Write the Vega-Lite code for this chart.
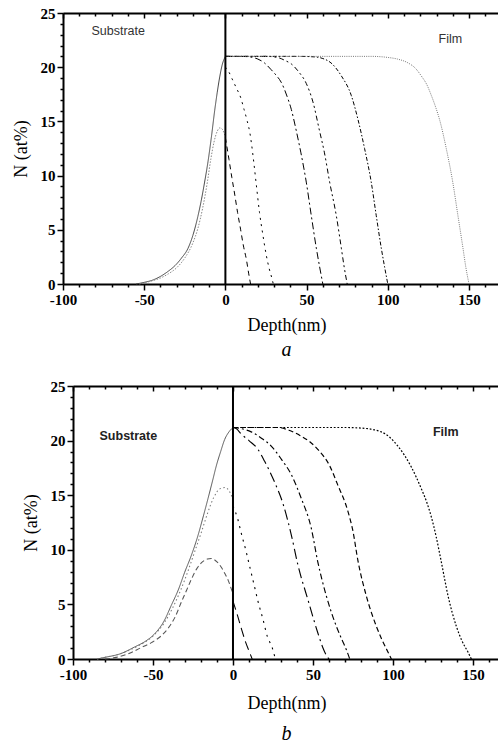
{
  "$schema": "https://vega.github.io/schema/vega-lite/v6.json",
  "padding": {"left": 12, "top": 6, "right": -12, "bottom": 0},
  "center": true,
  "spacing": 19,
  "resolve": {"scale": {"color": "independent", "strokeDash": "independent", "strokeWidth": "independent"}},
  "config": {
    "view": {"stroke": null},
    "axis": {
      "grid": false, "domainColor": "black", "domainWidth": 2, "tickColor": "black", "tickWidth": 1.5, "labelOverlap": false,
      "labelFont": "Liberation Serif", "labelFontWeight": "bold", "labelFontSize": 15, "labelColor": "black",
      "titleFont": "Liberation Serif", "titleFontWeight": "normal", "titleFontSize": 18, "titleColor": "black"
    }
  },
  "datasets": {
    "curvesA": [
      {"curve":"S1","depth":-55,"n":0},{"curve":"S1","depth":-50,"n":0.15},{"curve":"S1","depth":-45,"n":0.35},{"curve":"S1","depth":-40,"n":0.7},{"curve":"S1","depth":-35,"n":1.2},{"curve":"S1","depth":-31,"n":1.7},{"curve":"S1","depth":-27,"n":2.4},{"curve":"S1","depth":-23,"n":3.3},{"curve":"S1","depth":-20,"n":4.5},{"curve":"S1","depth":-17,"n":6.2},{"curve":"S1","depth":-15,"n":7.6},{"curve":"S1","depth":-12.8,"n":9.4},{"curve":"S1","depth":-10.7,"n":11.3},{"curve":"S1","depth":-8.5,"n":13.7},{"curve":"S1","depth":-6.6,"n":16},{"curve":"S1","depth":-5,"n":17.7},{"curve":"S1","depth":-3.5,"n":19.1},{"curve":"S1","depth":-2,"n":20.2},{"curve":"S1","depth":0,"n":21},
      {"curve":"S2","depth":-53,"n":0},{"curve":"S2","depth":-45,"n":0.3},{"curve":"S2","depth":-40,"n":0.55},{"curve":"S2","depth":-35,"n":0.95},{"curve":"S2","depth":-30,"n":1.5},{"curve":"S2","depth":-25,"n":2.4},{"curve":"S2","depth":-20,"n":3.8},{"curve":"S2","depth":-17,"n":5.1},{"curve":"S2","depth":-14,"n":7},{"curve":"S2","depth":-11,"n":9.5},{"curve":"S2","depth":-9,"n":11.5},{"curve":"S2","depth":-7,"n":13.1},{"curve":"S2","depth":-5,"n":14.1},{"curve":"S2","depth":-3.5,"n":14.4},{"curve":"S2","depth":-2,"n":14.3},{"curve":"S2","depth":-1,"n":14.0},{"curve":"S2","depth":0,"n":13.6},
      {"curve":"A1","depth":0,"n":13.5},{"curve":"A1","depth":2.2,"n":11.5},{"curve":"A1","depth":4,"n":9.8},{"curve":"A1","depth":5.7,"n":8.3},{"curve":"A1","depth":7.5,"n":6.6},{"curve":"A1","depth":9.4,"n":5.0},{"curve":"A1","depth":11,"n":3.6},{"curve":"A1","depth":13,"n":2.2},{"curve":"A1","depth":14.3,"n":1.0},{"curve":"A1","depth":15.5,"n":0},
      {"curve":"A2","depth":0,"n":20},{"curve":"A2","depth":2,"n":19.6},{"curve":"A2","depth":4.2,"n":18.9},{"curve":"A2","depth":6.7,"n":18.1},{"curve":"A2","depth":9.4,"n":17.2},{"curve":"A2","depth":11.5,"n":16.1},{"curve":"A2","depth":13.5,"n":15},{"curve":"A2","depth":15,"n":14},{"curve":"A2","depth":16.2,"n":12.8},{"curve":"A2","depth":17.5,"n":11.2},{"curve":"A2","depth":19,"n":9.2},{"curve":"A2","depth":21,"n":6.6},{"curve":"A2","depth":23,"n":4.6},{"curve":"A2","depth":25,"n":2.8},{"curve":"A2","depth":27,"n":1.4},{"curve":"A2","depth":28.5,"n":0.6},{"curve":"A2","depth":29.5,"n":0},
      {"curve":"A3","depth":0,"n":21},{"curve":"A3","depth":10,"n":21},{"curve":"A3","depth":15,"n":20.95},{"curve":"A3","depth":20,"n":20.75},{"curve":"A3","depth":24,"n":20.4},{"curve":"A3","depth":28,"n":19.8},{"curve":"A3","depth":31,"n":19.3},{"curve":"A3","depth":34.4,"n":18.6},{"curve":"A3","depth":38,"n":17.3},{"curve":"A3","depth":40.6,"n":16.1},{"curve":"A3","depth":43.7,"n":14.1},{"curve":"A3","depth":46.5,"n":12.1},{"curve":"A3","depth":49.8,"n":9.4},{"curve":"A3","depth":52.9,"n":6.3},{"curve":"A3","depth":56,"n":3.3},{"curve":"A3","depth":58,"n":1.6},{"curve":"A3","depth":60,"n":0},
      {"curve":"A4","depth":0,"n":21},{"curve":"A4","depth":25,"n":21},{"curve":"A4","depth":32,"n":20.9},{"curve":"A4","depth":37,"n":20.6},{"curve":"A4","depth":40.6,"n":20.3},{"curve":"A4","depth":45,"n":19.6},{"curve":"A4","depth":49.8,"n":18.5},{"curve":"A4","depth":53.9,"n":16.8},{"curve":"A4","depth":58,"n":14.1},{"curve":"A4","depth":61,"n":12.1},{"curve":"A4","depth":64.2,"n":9.4},{"curve":"A4","depth":68.3,"n":6.3},{"curve":"A4","depth":71.4,"n":3.3},{"curve":"A4","depth":73,"n":1.7},{"curve":"A4","depth":75,"n":0},
      {"curve":"A5","depth":0,"n":21},{"curve":"A5","depth":45,"n":21},{"curve":"A5","depth":55,"n":20.95},{"curve":"A5","depth":60,"n":20.8},{"curve":"A5","depth":65,"n":20.4},{"curve":"A5","depth":71.4,"n":19.2},{"curve":"A5","depth":77.5,"n":17.4},{"curve":"A5","depth":81.6,"n":15.2},{"curve":"A5","depth":85.7,"n":12.5},{"curve":"A5","depth":89.8,"n":9.4},{"curve":"A5","depth":92.9,"n":6.3},{"curve":"A5","depth":96,"n":3.3},{"curve":"A5","depth":98,"n":1.6},{"curve":"A5","depth":100,"n":0},
      {"curve":"A6","depth":0,"n":21},{"curve":"A6","depth":90,"n":21},{"curve":"A6","depth":100,"n":20.9},{"curve":"A6","depth":106,"n":20.75},{"curve":"A6","depth":112.4,"n":20.4},{"curve":"A6","depth":117,"n":19.9},{"curve":"A6","depth":120.6,"n":19.2},{"curve":"A6","depth":124,"n":18.4},{"curve":"A6","depth":126.8,"n":17.4},{"curve":"A6","depth":129.5,"n":16.3},{"curve":"A6","depth":132,"n":15.1},{"curve":"A6","depth":136,"n":12.5},{"curve":"A6","depth":140,"n":9.4},{"curve":"A6","depth":143.2,"n":6.3},{"curve":"A6","depth":146.3,"n":3.3},{"curve":"A6","depth":148,"n":1.6},{"curve":"A6","depth":150,"n":0}
    ],
    "curvesB": [
      {"curve":"SB1","depth":-85,"n":0},{"curve":"SB1","depth":-80,"n":0.15},{"curve":"SB1","depth":-70,"n":0.5},{"curve":"SB1","depth":-61.5,"n":1.1},{"curve":"SB1","depth":-55,"n":1.6},{"curve":"SB1","depth":-49,"n":2.3},{"curve":"SB1","depth":-43,"n":3.5},{"curve":"SB1","depth":-38.6,"n":4.9},{"curve":"SB1","depth":-34,"n":6.4},{"curve":"SB1","depth":-30.3,"n":7.9},{"curve":"SB1","depth":-26,"n":9.5},{"curve":"SB1","depth":-21.9,"n":11.3},{"curve":"SB1","depth":-18.5,"n":13.1},{"curve":"SB1","depth":-15.6,"n":14.7},{"curve":"SB1","depth":-12.8,"n":16.3},{"curve":"SB1","depth":-10.4,"n":17.7},{"curve":"SB1","depth":-7.7,"n":19},{"curve":"SB1","depth":-5.2,"n":20.1},{"curve":"SB1","depth":-2.5,"n":20.8},{"curve":"SB1","depth":0,"n":21.2},
      {"curve":"SB2","depth":-85,"n":0},{"curve":"SB2","depth":-80,"n":0.15},{"curve":"SB2","depth":-70,"n":0.5},{"curve":"SB2","depth":-60,"n":1.15},{"curve":"SB2","depth":-50,"n":2.1},{"curve":"SB2","depth":-43,"n":3.3},{"curve":"SB2","depth":-38,"n":4.6},{"curve":"SB2","depth":-33,"n":6.2},{"curve":"SB2","depth":-28,"n":8.1},{"curve":"SB2","depth":-24,"n":9.8},{"curve":"SB2","depth":-20,"n":11.5},{"curve":"SB2","depth":-16,"n":13.3},{"curve":"SB2","depth":-12,"n":14.8},{"curve":"SB2","depth":-8,"n":15.6},{"curve":"SB2","depth":-5,"n":15.7},{"curve":"SB2","depth":-2,"n":15.3},{"curve":"SB2","depth":0,"n":14.6},
      {"curve":"SB3","depth":-80,"n":0},{"curve":"SB3","depth":-73,"n":0.15},{"curve":"SB3","depth":-65,"n":0.5},{"curve":"SB3","depth":-58,"n":1.0},{"curve":"SB3","depth":-51,"n":1.5},{"curve":"SB3","depth":-45,"n":2.1},{"curve":"SB3","depth":-40.6,"n":2.8},{"curve":"SB3","depth":-36,"n":3.9},{"curve":"SB3","depth":-32.3,"n":5.2},{"curve":"SB3","depth":-29,"n":6.3},{"curve":"SB3","depth":-26,"n":7.3},{"curve":"SB3","depth":-22.5,"n":8.3},{"curve":"SB3","depth":-19.8,"n":8.8},{"curve":"SB3","depth":-16,"n":9.15},{"curve":"SB3","depth":-13.6,"n":9.2},{"curve":"SB3","depth":-10,"n":8.9},{"curve":"SB3","depth":-7.3,"n":8.4},{"curve":"SB3","depth":-5,"n":7.8},{"curve":"SB3","depth":-3,"n":7.2},{"curve":"SB3","depth":-1,"n":6.4},{"curve":"SB3","depth":0,"n":6},
      {"curve":"B1","depth":0,"n":5.3},{"curve":"B1","depth":3,"n":3.9},{"curve":"B1","depth":5.2,"n":2.8},{"curve":"B1","depth":8,"n":1.5},{"curve":"B1","depth":10.4,"n":0.6},{"curve":"B1","depth":12,"n":0},
      {"curve":"B2","depth":0,"n":14},{"curve":"B2","depth":3,"n":12.8},{"curve":"B2","depth":5.2,"n":11.5},{"curve":"B2","depth":8.3,"n":9.8},{"curve":"B2","depth":10.4,"n":8.5},{"curve":"B2","depth":13.5,"n":6.6},{"curve":"B2","depth":15.6,"n":5.3},{"curve":"B2","depth":18.8,"n":3.6},{"curve":"B2","depth":21.4,"n":2.1},{"curve":"B2","depth":24.6,"n":1.0},{"curve":"B2","depth":26.5,"n":0},
      {"curve":"B3","depth":0,"n":21.2},{"curve":"B3","depth":2,"n":21.1},{"curve":"B3","depth":5.2,"n":20.6},{"curve":"B3","depth":10,"n":20},{"curve":"B3","depth":15.6,"n":19.2},{"curve":"B3","depth":19.8,"n":18.1},{"curve":"B3","depth":26,"n":16.2},{"curve":"B3","depth":31.3,"n":14.2},{"curve":"B3","depth":36.4,"n":11.4},{"curve":"B3","depth":40.6,"n":8.6},{"curve":"B3","depth":46.9,"n":5.4},{"curve":"B3","depth":53,"n":2.4},{"curve":"B3","depth":56,"n":1.1},{"curve":"B3","depth":58.5,"n":0.3},{"curve":"B3","depth":60,"n":0},
      {"curve":"B4","depth":0,"n":21.2},{"curve":"B4","depth":5,"n":21.1},{"curve":"B4","depth":11.4,"n":20.8},{"curve":"B4","depth":18,"n":20.2},{"curve":"B4","depth":23.9,"n":19.5},{"curve":"B4","depth":30.2,"n":18.3},{"curve":"B4","depth":36.4,"n":16.9},{"curve":"B4","depth":42.7,"n":14.7},{"curve":"B4","depth":48.9,"n":12},{"curve":"B4","depth":53,"n":8.9},{"curve":"B4","depth":58.3,"n":5.8},{"curve":"B4","depth":64.6,"n":3.0},{"curve":"B4","depth":68,"n":1.8},{"curve":"B4","depth":71,"n":0.8},{"curve":"B4","depth":73,"n":0},
      {"curve":"B5","depth":0,"n":21.2},{"curve":"B5","depth":28,"n":21.2},{"curve":"B5","depth":35,"n":20.95},{"curve":"B5","depth":42.7,"n":20.4},{"curve":"B5","depth":48,"n":19.9},{"curve":"B5","depth":53,"n":19.2},{"curve":"B5","depth":60.4,"n":17.7},{"curve":"B5","depth":65.6,"n":15.9},{"curve":"B5","depth":71.9,"n":13.5},{"curve":"B5","depth":75,"n":11.7},{"curve":"B5","depth":78.1,"n":9.0},{"curve":"B5","depth":83.3,"n":5.8},{"curve":"B5","depth":89.6,"n":3.0},{"curve":"B5","depth":93,"n":1.8},{"curve":"B5","depth":97,"n":0.6},{"curve":"B5","depth":99,"n":0},
      {"curve":"B6","depth":0,"n":21.2},{"curve":"B6","depth":70,"n":21.2},{"curve":"B6","depth":80,"n":21.15},{"curve":"B6","depth":92.7,"n":20.8},{"curve":"B6","depth":98,"n":20.3},{"curve":"B6","depth":103.1,"n":19.5},{"curve":"B6","depth":107,"n":18.7},{"curve":"B6","depth":111.4,"n":17.6},{"curve":"B6","depth":117.7,"n":15.6},{"curve":"B6","depth":121,"n":14.4},{"curve":"B6","depth":124,"n":13.0},{"curve":"B6","depth":127,"n":11.2},{"curve":"B6","depth":130.2,"n":8.9},{"curve":"B6","depth":134.4,"n":5.8},{"curve":"B6","depth":139.6,"n":3.0},{"curve":"B6","depth":143,"n":1.7},{"curve":"B6","depth":147,"n":0.6},{"curve":"B6","depth":149,"n":0}
    ],
    "labelsA": [{"label":"Substrate","depth":-66,"n":23.3},{"label":"Film","depth":138.5,"n":22.6}],
    "labelsB": [{"label":"Substrate","depth":-65.4,"n":20.4},{"label":"Film","depth":133,"n":20.8}],
    "interface": [{"depth":0}]
  },
  "vconcat": [
    {
      "width": 447, "height": 271,
      "title": {"text": "a", "orient": "bottom", "font": "Liberation Serif", "fontSize": 20, "fontStyle": "italic", "fontWeight": "normal", "color": "black", "offset": 6},
      "resolve": {"axis": {"x": "independent"}},
      "layer": [
        {
          "data": {"name": "curvesA"},
          "mark": {"type": "line", "interpolate": "monotone"},
          "encoding": {
            "x": {"field": "depth", "type": "quantitative", "scale": {"domain": [-100, 175.25], "nice": false, "zero": false},
              "axis": {"orient": "bottom", "title": "Depth(nm)", "values": [-100,-90,-80,-70,-60,-50,-40,-30,-20,-10,0,10,20,30,40,50,60,70,80,90,100,110,120,130,140,150,160,170],
                "labelExpr": "datum.value % 50 === 0 ? '' + datum.value : ''", "tickSize": {"condition": {"test": "datum.value % 50 === 0", "value": 6}, "value": 3}, "labelPadding": 2, "titlePadding": 9, "labelFlush": false, "labelOverlap": false}},
            "y": {"field": "n", "type": "quantitative", "scale": {"domain": [0, 25], "nice": false, "zero": false},
              "axis": {"title": "N (at%)", "values": [0,1,2,3,4,5,6,7,8,9,10,11,12,13,14,15,16,17,18,19,20,21,22,23,24,25],
                "labelExpr": "datum.value % 5 === 0 ? '' + datum.value : ''", "tickSize": {"condition": {"test": "datum.value % 5 === 0", "value": 6}, "value": 3}, "labelPadding": 2, "titlePadding": 10, "labelOverlap": false, "labelFlush": false}},
            "color": {"field": "curve", "type": "nominal", "legend": null, "scale": {"domain": ["S1","S2","A1","A2","A3","A4","A5","A6"], "range": ["#444444","#888888","#000000","#000000","#000000","#000000","#000000","#777777"]}},
            "strokeDash": {"field": "curve", "type": "nominal", "legend": null, "scale": {"domain": ["S1","S2","A1","A2","A3","A4","A5","A6"], "range": [[1,0],[1.5,1.5],[5,4],[2,4.5],[7,3,2,3],[5,3,2,3,2,3],[4,2,1.5,2],[1,1.2]]}},
            "strokeWidth": {"field": "curve", "type": "ordinal", "legend": null, "scale": {"domain": ["S1","S2","A1","A2","A3","A4","A5","A6"], "range": [1,1,1.8,2.2,2,2,2,1.2]}}
          }
        },
        {
          "data": {"name": "interface"},
          "mark": {"type": "rule", "color": "black", "strokeWidth": 2},
          "encoding": {
            "x": {"field": "depth", "type": "quantitative", "axis": {"orient": "top", "title": null, "labels": false, "values": [-100,-90,-80,-70,-60,-50,-40,-30,-20,-10,0,10,20,30,40,50,60,70,80,90,100,110,120,130,140,150,160,170], "tickSize": {"condition": {"test": "datum.value % 50 === 0", "value": -5}, "value": -3}}}
          }
        },
        {
          "data": {"name": "labelsA"},
          "mark": {"type": "text", "font": "Liberation Sans", "fontSize": 12.5, "color": "#333333"},
          "encoding": {
            "x": {"field": "depth", "type": "quantitative", "axis": null},
            "y": {"field": "n", "type": "quantitative", "axis": {"title": "N (at%)", "values": [0,1,2,3,4,5,6,7,8,9,10,11,12,13,14,15,16,17,18,19,20,21,22,23,24,25],
                "labelExpr": "datum.value % 5 === 0 ? '' + datum.value : ''", "tickSize": {"condition": {"test": "datum.value % 5 === 0", "value": 6}, "value": 3}, "labelPadding": 2, "titlePadding": 10, "labelOverlap": false, "labelFlush": false}},
            "text": {"field": "label"}
          }
        }
      ]
    },
    {
      "width": 427, "height": 273,
      "title": {"text": "b", "orient": "bottom", "font": "Liberation Serif", "fontSize": 20, "fontStyle": "italic", "fontWeight": "normal", "color": "black", "offset": 12},
      "resolve": {"axis": {"x": "independent"}},
      "layer": [
        {
          "data": {"name": "curvesB"},
          "mark": {"type": "line", "interpolate": "monotone"},
          "encoding": {
            "x": {"field": "depth", "type": "quantitative", "scale": {"domain": [-100, 166.9], "nice": false, "zero": false},
              "axis": {"orient": "bottom", "title": "Depth(nm)", "values": [-100,-90,-80,-70,-60,-50,-40,-30,-20,-10,0,10,20,30,40,50,60,70,80,90,100,110,120,130,140,150,160],
                "labelExpr": "datum.value % 50 === 0 ? '' + datum.value : ''", "tickSize": {"condition": {"test": "datum.value % 50 === 0", "value": 6}, "value": 3}, "labelPadding": 2, "titlePadding": 12, "labelFlush": false, "labelOverlap": false}},
            "y": {"field": "n", "type": "quantitative", "scale": {"domain": [0, 25], "nice": false, "zero": false},
              "axis": {"title": "N (at%)", "values": [0,1,2,3,4,5,6,7,8,9,10,11,12,13,14,15,16,17,18,19,20,21,22,23,24,25],
                "labelExpr": "datum.value % 5 === 0 ? '' + datum.value : ''", "tickSize": {"condition": {"test": "datum.value % 5 === 0", "value": 6}, "value": 3}, "labelPadding": 2, "titlePadding": 10, "labelOverlap": false, "labelFlush": false}},
            "color": {"field": "curve", "type": "nominal", "legend": null, "scale": {"domain": ["SB1","SB2","SB3","B1","B2","B3","B4","B5","B6"], "range": ["#555555","#777777","#555555","#000000","#000000","#000000","#000000","#000000","#000000"]}},
            "strokeDash": {"field": "curve", "type": "nominal", "legend": null, "scale": {"domain": ["SB1","SB2","SB3","B1","B2","B3","B4","B5","B6"], "range": [[1,0],[1.5,2.5],[5,3],[9,5],[2,5],[10,4,2,4],[6,3,2,3],[5,3],[1.8,1.8]]}},
            "strokeWidth": {"field": "curve", "type": "ordinal", "legend": null, "scale": {"domain": ["SB1","SB2","SB3","B1","B2","B3","B4","B5","B6"], "range": [1,1.2,1.2,2.2,2.4,2.2,2.2,2.2,2]}}
          }
        },
        {
          "data": {"name": "interface"},
          "mark": {"type": "rule", "color": "black", "strokeWidth": 2},
          "encoding": {
            "x": {"field": "depth", "type": "quantitative", "axis": {"orient": "top", "title": null, "labels": false, "values": [-100,-90,-80,-70,-60,-50,-40,-30,-20,-10,0,10,20,30,40,50,60,70,80,90,100,110,120,130,140,150,160], "tickSize": {"condition": {"test": "datum.value % 50 === 0", "value": -5}, "value": -3}}}
          }
        },
        {
          "data": {"name": "labelsB"},
          "mark": {"type": "text", "font": "Liberation Sans", "fontSize": 12.5, "fontWeight": "bold", "color": "#222222"},
          "encoding": {
            "x": {"field": "depth", "type": "quantitative", "axis": null},
            "y": {"field": "n", "type": "quantitative", "axis": {"title": "N (at%)", "values": [0,1,2,3,4,5,6,7,8,9,10,11,12,13,14,15,16,17,18,19,20,21,22,23,24,25],
                "labelExpr": "datum.value % 5 === 0 ? '' + datum.value : ''", "tickSize": {"condition": {"test": "datum.value % 5 === 0", "value": 6}, "value": 3}, "labelPadding": 2, "titlePadding": 10, "labelOverlap": false, "labelFlush": false}},
            "text": {"field": "label"}
          }
        }
      ]
    }
  ]
}
